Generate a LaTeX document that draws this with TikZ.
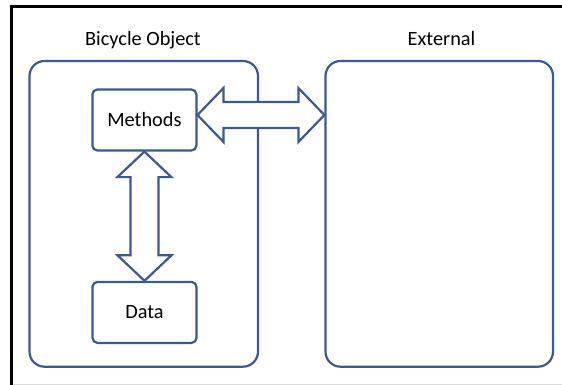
\documentclass[tikz,border=0pt]{standalone}
\usepackage{fontspec}
\setmainfont{Carlito}
\usetikzlibrary{calc}
\definecolor{boxblue}{RGB}{59,89,148}
\definecolor{framegray}{RGB}{220,220,220}
\tikzset{
  bigbox/.style={draw=boxblue, line width=2.2pt, rounded corners=15pt, minimum width=#1, minimum height=305.7pt, inner sep=0pt},
  smallbox/.style={draw=boxblue, line width=2.2pt, rounded corners=5pt, minimum width=104pt, minimum height=61pt, inner sep=0pt, font=\fontsize{20.3pt}{23pt}\selectfont},
  title/.style={anchor=base, inner sep=0pt, font=\fontsize{20.3pt}{23pt}\selectfont},
  arrowbox/.style={draw=boxblue, line width=2.2pt, fill=white, line join=miter}
}
\begin{document}
\begin{tikzpicture}[x=1pt, y=-1pt]
\useasboundingbox (0,0) rectangle (562,385);
% frame
\draw[framegray, line width=1pt] (12.5,384.3) -- (562,384.3);
\draw[black, line width=3pt] (562,6.5) -- (11,6.5) -- (11,385);
% containers
\node[bigbox=228.5pt] (obj) at (143.75,213.85) {};
\node[bigbox=227.5pt] (ext) at (439.25,213.85) {};
% titles
\node[title] (objt) at (143,46) {Bicycle Object};
\node[title] (extt) at (441.5,46) {External};
% inner boxes
\node[smallbox] (methods) at (144.4,120) {Methods};
\node[smallbox] (data) at (144.5,312.4) {Data};
% horizontal double arrow
\coordinate (hL) at ($(methods.east)+(0,-5)$);
\coordinate (hR) at (ext.west |- hL);
\draw[arrowbox] (hL) -- ++(26,-27) -- ++(0,14) -- ($(hR)+(-26,-13)$) -- ++(0,-14) -- (hR)
  -- ++(-26,27) -- ++(0,-14) -- ($(hL)+(26,13)$) -- ++(0,14) -- cycle;
% vertical double arrow
\coordinate (vT) at (methods.south);
\coordinate (vB) at (data.north);
\draw[arrowbox] (vT) -- ++(27,25.5) -- ++(-13,0) -- ($(vB)+(14,-25.5)$) -- ++(13,0) -- (vB)
  -- ++(-27,-25.5) -- ++(13,0) -- ($(vT)+(-14,25.5)$) -- ++(-13,0) -- cycle;
\end{tikzpicture}
\end{document}
